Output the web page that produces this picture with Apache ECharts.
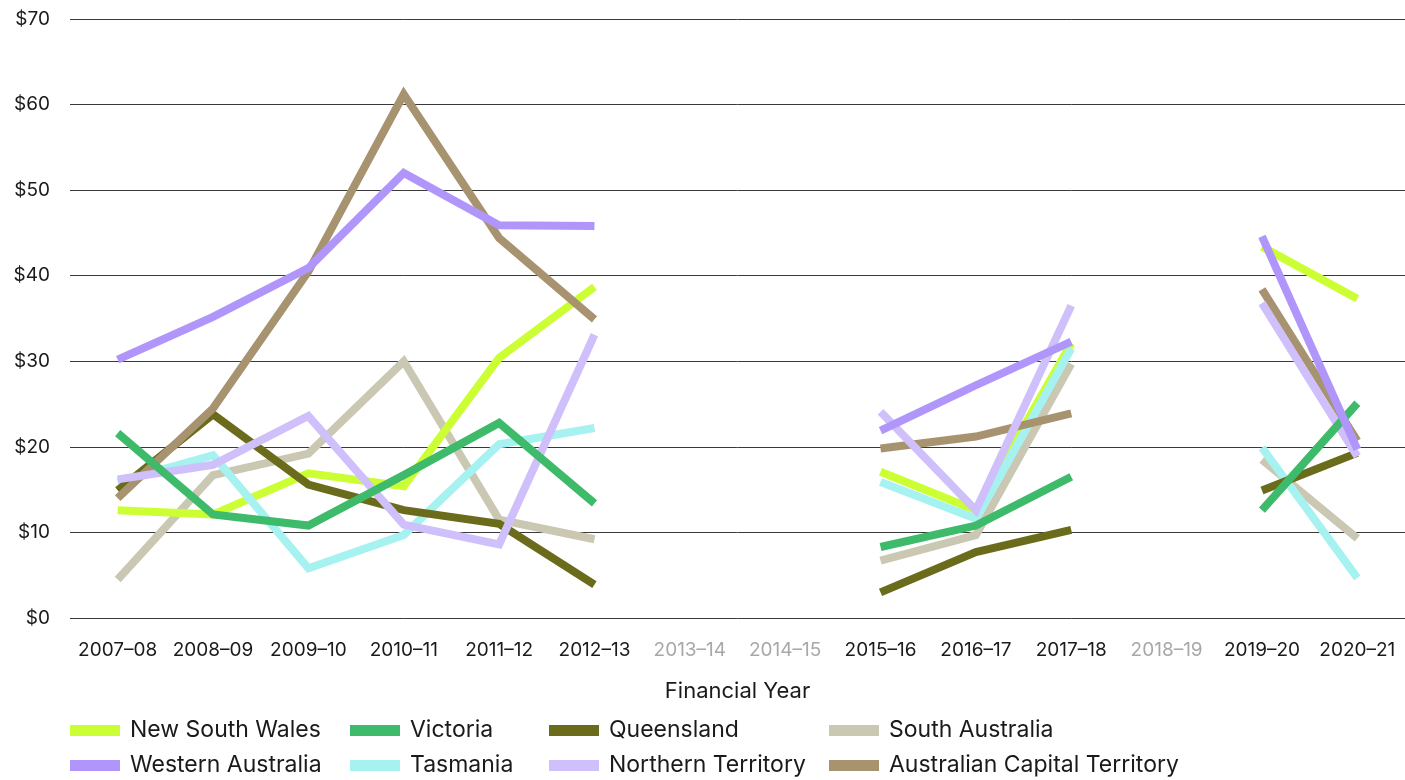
<!DOCTYPE html>
<html>
<head>
<meta charset="utf-8">
<script src="https://cdn.jsdelivr.net/npm/echarts@6/dist/echarts.min.js"></script>
<style>
  html, body { margin: 0; padding: 0; background: #fff; }
  #chart { width: 1405px; height: 780px; }
</style>
</head>
<body>
<div id="chart"></div>
<script>
// financial years (gaps = no data)
const years = ['2007–08', '2008–09', '2009–10', '2010–11', '2011–12', '2012–13', '2013–14',
  '2014–15', '2015–16', '2016–17', '2017–18', '2018–19', '2019–20', '2020–21']
const greyYears = ['2013–14', '2014–15', '2018–19']

const nsw = [12.6, 12.1, 16.9, 15.4, 30.4, 38.7, null, null, 17.1, 12.6, 32.1, null, 43.4, 37.3]
const vic = [21.6, 12.1, 10.8, 16.7, 22.8, 13.4, null, null, 8.3, 10.8, 16.5, null, 12.6, 25.1]
const qld = [14.9, 23.8, 15.6, 12.6, 11.0, 3.9, null, null, 3.0, 7.7, 10.3, null, 14.9, 19.3]
const sa = [4.5, 16.7, 19.2, 30.0, 11.5, 9.2, null, null, 6.7, 9.7, 29.7, null, 18.5, 9.3]
const wa = [30.2, 35.2, 40.9, 52.0, 45.9, 45.8, null, null, 21.9, 27.2, 32.3, null, 44.6, 19.7]
const tas = [15.9, 19.0, 5.8, 9.7, 20.3, 22.2, null, null, 15.9, 11.6, 31.5, null, 19.9, 4.7]
const nt = [16.2, 17.9, 23.6, 10.9, 8.6, 33.1, null, null, 24.1, 12.6, 36.5, null, 36.8, 18.9]
const act = [14.0, 24.5, 40.5, 61.2, 44.4, 34.9, null, null, 19.8, 21.2, 23.9, null, 38.4, 20.7]

// drawing order (bottom -> top); legend order is set separately below
const seriesList = [
  { name: 'South Australia', data: sa, color: '#cac8b3' },
  { name: 'New South Wales', data: nsw, color: '#ccff33' },
  { name: 'Tasmania', data: tas, color: '#a6f2f0' },
  { name: 'Queensland', data: qld, color: '#6b6b1c' },
  { name: 'Australian Capital Territory', data: act, color: '#a89370' },
  { name: 'Northern Territory', data: nt, color: '#cfc0fb' },
  { name: 'Victoria', data: vic, color: '#3dba6a' },
  { name: 'Western Australia', data: wa, color: '#b096fb' }
]

const font = 'Inter, "Noto Sans", sans-serif'

// legend: 4 columns of 2 rows
const legendCols = [
  { left: 70, items: ['New South Wales', 'Western Australia'] },
  { left: 350, items: ['Victoria', 'Tasmania'] },
  { left: 549, items: ['Queensland', 'Northern Territory'] },
  { left: 829, items: ['South Australia', 'Australian Capital Territory'] }
]

const chart = echarts.init(document.getElementById('chart'))

chart.setOption({
  animation: false,
  color: seriesList.map(s => s.color),
  grid: { left: 70, right: 0, top: 19, bottom: 162 },
  legend: legendCols.map(c => ({
    orient: 'vertical',
    left: c.left,
    top: 719,
    height: 61,
    padding: 0,
    data: c.items,
    icon: 'rect',
    itemWidth: 50,
    itemHeight: 11,
    itemGap: 12,
    selectedMode: false,
    textStyle: { fontFamily: font, fontSize: 23, color: '#1a1a1a', lineHeight: 23, padding: [0, 0, 0, 5] }
  })),
  xAxis: {
    type: 'category',
    data: years,
    boundaryGap: true,
    name: 'Financial Year',
    nameLocation: 'middle',
    nameGap: 62,
    nameTextStyle: { fontFamily: font, fontSize: 22, color: '#1a1a1a' },
    axisLine: { show: false },
    axisTick: { show: false },
    axisLabel: {
      margin: 23,
      fontFamily: font,
      fontSize: 19,
      interval: 0,
      color: (v) => greyYears.includes(v) ? '#a8a8a8' : '#1a1a1a'
    }
  },
  yAxis: {
    type: 'value',
    min: 0,
    max: 70,
    interval: 10,
    axisLine: { show: false },
    axisTick: { show: false },
    axisLabel: {
      margin: 20,
      fontFamily: font,
      fontSize: 19,
      color: '#1a1a1a',
      formatter: '${value}'
    },
    splitLine: { lineStyle: { color: '#3a3a3a', width: 1 } }
  },
  series: seriesList.map(s => ({
    name: s.name,
    type: 'line',
    data: s.data,
    showSymbol: false,
    symbol: 'none',
    connectNulls: false,
    lineStyle: { width: 8, color: s.color, cap: 'butt', join: 'miter' },
    itemStyle: { color: s.color }
  }))
})
</script>
</body>
</html>
